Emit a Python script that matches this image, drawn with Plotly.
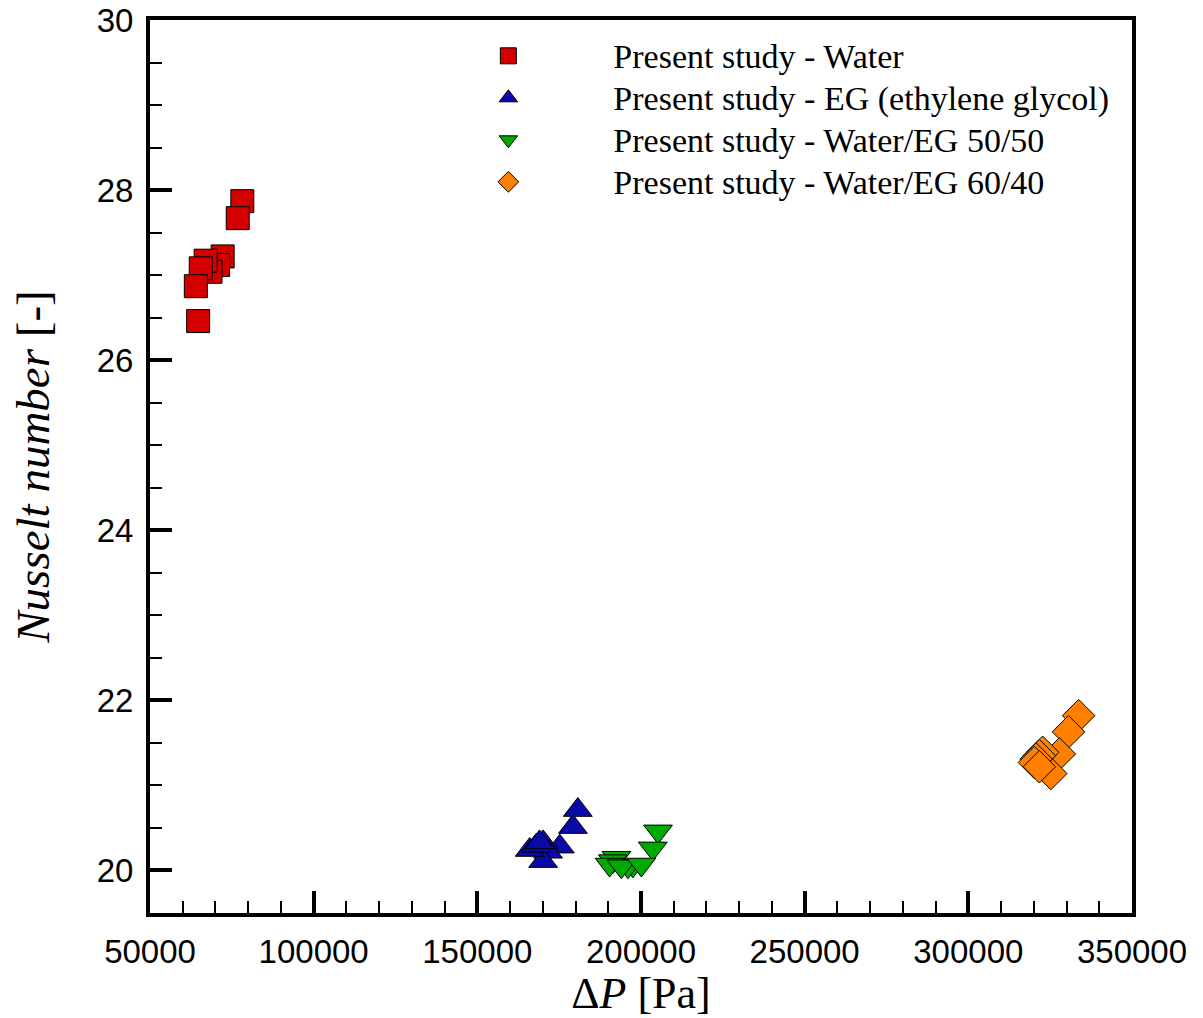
import plotly.graph_objects as go

# Data
water_dp = [78200, 76800, 72200, 70800, 68500, 67000, 65500, 64000, 64700]
water_nu = [27.87, 27.67, 27.22, 27.12, 27.04, 27.17, 27.08, 26.87, 26.46]

eg_dp = [180700, 179200, 175200, 170100, 171600, 170100, 166000, 168000, 169000]
eg_nu = [20.71, 20.51, 20.28, 20.33, 20.22, 20.11, 20.24, 20.29, 20.33]

w5050_dp = [205200, 203600, 197500, 196000, 192500, 191400, 190400, 194000, 200100]
w5050_nu = [20.46, 20.26, 20.06, 20.05, 20.15, 20.11, 20.07, 20.05, 20.07]

w6040_dp = [333700, 330600, 327800, 325200, 322700, 321700, 320700, 320200, 321700]
w6040_nu = [21.82, 21.63, 21.37, 21.14, 21.39, 21.35, 21.31, 21.27, 21.22]

series = [
    ("Present study - Water", water_dp, water_nu, "square", "#D40000", 23),
    ("Present study - EG (ethylene glycol)", eg_dp, eg_nu, "triangle-up", "#0A0AA8", 25),
    ("Present study - Water/EG 50/50", w5050_dp, w5050_nu, "triangle-down", "#00AA00", 25),
    ("Present study - Water/EG 60/40", w6040_dp, w6040_nu, "diamond", "#FF8000", 25),
]

fig = go.Figure()
for name, xs, ys, sym, col, sz in series:
    fig.add_trace(go.Scatter(
        x=xs, y=ys, mode="markers",
        name='<span style="font-size:34px">' + name + '</span>',
        marker=dict(symbol=sym, color=col, size=sz,
                    line=dict(color="black", width=1)),
    ))

tick_font = dict(family="Liberation Sans, Arial, sans-serif", size=33, color="black")
serif = "Liberation Serif, Times New Roman, serif"

fig.update_layout(
    width=1203, height=1018,
    margin=dict(l=150, r=71, t=20, b=105),
    paper_bgcolor="white", plot_bgcolor="white",
    showlegend=True,
    legend=dict(
        x=0.258, y=0.989, xanchor="left", yanchor="top",
        font=dict(family=serif, size=30, color="black"),
        itemwidth=200, bgcolor="rgba(0,0,0,0)", tracegroupgap=0,
    ),
    xaxis=dict(
        range=[50000, 350000], showgrid=False, zeroline=False, automargin=False,
        showline=True, linecolor="black", linewidth=4, mirror=True,
        ticks="inside", ticklen=22, tickwidth=4, tickcolor="black",
        dtick=50000, tick0=50000, tickformat="d",
        tickfont=tick_font, ticklabelstandoff=6,
        minor=dict(ticks="inside", ticklen=12, tickwidth=1.5,
                   tickcolor="black", dtick=10000, showgrid=False),
        title=dict(text="Δ<i>P</i> [Pa]", font=dict(family=serif, size=44, color="black"),
                   standoff=4),
    ),
    yaxis=dict(
        range=[19.5, 30], showgrid=False, zeroline=False, automargin=False,
        showline=True, linecolor="black", linewidth=4, mirror=True,
        ticks="inside", ticklen=22, tickwidth=4, tickcolor="black",
        dtick=2, tick0=20,
        tickfont=tick_font, ticklabelstandoff=6,
        minor=dict(ticks="inside", ticklen=12, tickwidth=1.5,
                   tickcolor="black", dtick=0.5, showgrid=False),
        title=dict(text="<i>Nusselt number</i> [-]", font=dict(family=serif, size=47, color="black"),
                   standoff=33),
    ),
)

fig.write_html("out.html")
